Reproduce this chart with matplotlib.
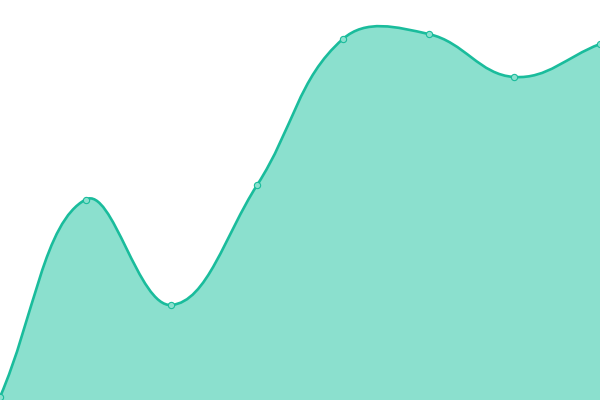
from matplotlib import pyplot as plt
from matplotlib.path import Path
from matplotlib.patches import PathPatch
import numpy as np

labels = ["1", "2", "3", "4", "5", "6", "7", "8"]
values = [3, 200.5, 95, 215, 361, 366, 323, 356]

W, H = 600, 400
line_color = "#1abc9c"
fill_color = "#8be0ce"


def spline_path(xs, ys, tension=0.4):
    # chart.js style cardinal spline, computed in pixel space
    n = len(xs)
    verts = [(xs[0], ys[0])]
    codes = [Path.MOVETO]
    cps = []
    for i in range(n):
        px, py = (xs[i - 1], ys[i - 1]) if i > 0 else (xs[i], ys[i])
        nx, ny = (xs[i + 1], ys[i + 1]) if i < n - 1 else (xs[i], ys[i])
        d01 = np.hypot(xs[i] - px, ys[i] - py)
        d12 = np.hypot(nx - xs[i], ny - ys[i])
        tot = d01 + d12
        fa = tension * d01 / tot if tot else 0
        fb = tension * d12 / tot if tot else 0
        cp_prev = (xs[i] - fa * (nx - px), ys[i] - fa * (ny - py))
        cp_next = (xs[i] + fb * (nx - px), ys[i] + fb * (ny - py))
        cps.append((cp_prev, cp_next))
    for i in range(1, n):
        verts += [cps[i - 1][1], cps[i][0], (xs[i], ys[i])]
        codes += [Path.CURVE4] * 3
    return verts, codes


x = np.arange(len(labels))
xpix = x * W / (len(labels) - 1)
verts, codes = spline_path(xpix, values)

fig = plt.figure(figsize=(6, 4), dpi=100)
ax = fig.add_axes([0, 0, 1, 1])
ax.set_xlim(0, W)
ax.set_ylim(0, H)
ax.axis("off")

fill_verts = verts + [(xpix[-1], 0), (xpix[0], 0), verts[0]]
fill_codes = codes + [Path.LINETO, Path.LINETO, Path.CLOSEPOLY]
ax.add_patch(PathPatch(Path(fill_verts, fill_codes), facecolor=fill_color, edgecolor="none"))
ax.add_patch(PathPatch(Path(verts, codes), facecolor="none", edgecolor=line_color, lw=1.9))
ax.plot(xpix, values, "o", ms=4.5, mfc=fill_color, mec=line_color, mew=0.8, zorder=5)

fig.savefig("out.png", dpi=100)
